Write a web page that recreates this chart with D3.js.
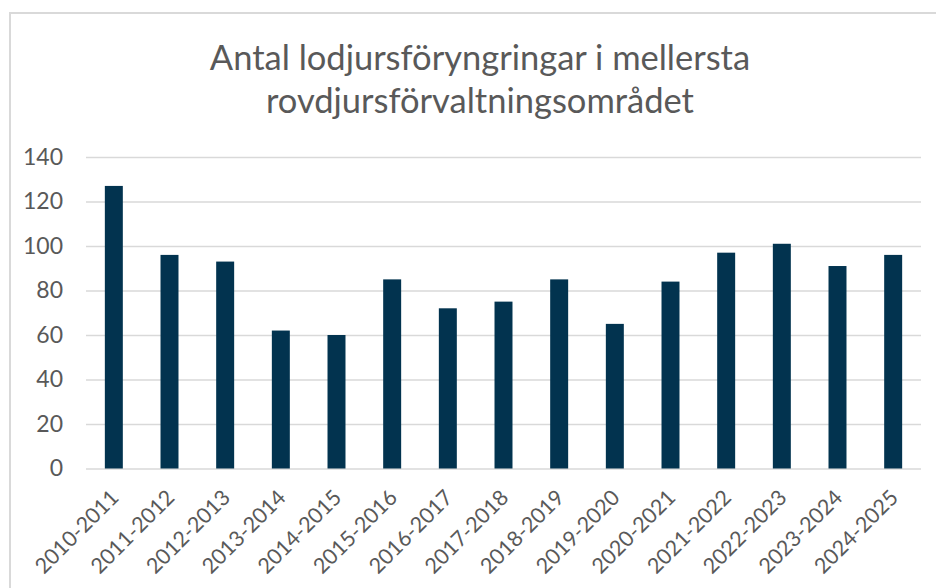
<!DOCTYPE html>
<html>
<head>
<meta charset="utf-8">
<script src="https://cdn.jsdelivr.net/npm/d3@7"></script>
<style>
  body { margin: 0; background: #fff; }
  text { font-family: Lato, "Open Sans", sans-serif; fill: #595959; }
</style>
</head>
<body>
<div id="chart"></div>
<script>
// data
const seasons = ["2010-2011", "2011-2012", "2012-2013", "2013-2014", "2014-2015",
    "2015-2016", "2016-2017", "2017-2018", "2018-2019", "2019-2020",
    "2020-2021", "2021-2022", "2022-2023", "2023-2024", "2024-2025"]
const counts = [127, 96, 93, 62, 60, 85, 72, 75, 85, 65, 84, 97, 101, 91, 96]
const yTicks = [0, 20, 40, 60, 80, 100, 120, 140]
const titleLines = ["Antal lodjursföryngringar i mellersta", "rovdjursförvaltningsområdet"]

const data = seasons.map((s, i) => ({ season: s, value: counts[i] }))

const W = 936, H = 588
const margin = {top: 157, right: 15, bottom: 119.5, left: 86}

const svg = d3.select("#chart").append("svg")
        .attr("width", W)
        .attr("height", H)

// chart frame (cropped on the right and bottom)
svg.append("rect")
        .attr("x", 10)
        .attr("y", 13)
        .attr("width", 1000)
        .attr("height", 700)
        .attr("fill", "none")
        .attr("stroke", "#d9d9d9")
        .attr("stroke-width", 2)

// title
svg.append("text")
        .attr("text-anchor", "middle")
        .style("font-size", "34.5px")
    .selectAll("tspan")
    .data(titleLines)
    .join("tspan")
        .attr("x", 480)
        .attr("y", (d, i) => 70 + i * 43)
        .text(d => d)

const xScale = d3.scaleBand()
    .domain(seasons)
    .range([margin.left, W - margin.right])
    .paddingInner(0.677)
    .paddingOuter(0.677 / 2)

const yScale = d3.scaleLinear()
    .domain([0, 140])
    .range([H - margin.bottom, margin.top])

// gridlines
const yAx = d3.axisLeft(yScale)
    .tickValues(yTicks)
    .tickSize(-(W - margin.right - margin.left))
    .tickPadding(23)

const yGroup = svg.append("g")
        .attr("class", "y-axis")
        .attr("transform", `translate(${margin.left},0)`)
        .call(yAx)

yGroup.select(".domain").remove()
yGroup.selectAll("line")
        .attr("stroke", "#d9d9d9")
        .attr("stroke-width", 1.5)
yGroup.selectAll("text")
        .attr("fill", "#595959")
        .style("font-size", "23px")
        .style("font-family", "Lato, sans-serif")

// bars
svg.selectAll(".bar")
    .data(data)
    .join("rect")
        .attr("class", "bar")
        .attr("x", d => xScale(d.season))
        .attr("y", d => yScale(d.value))
        .attr("width", xScale.bandwidth())
        .attr("height", d => yScale(0) - yScale(d.value))
        .attr("fill", "#02334f")

// category labels, rotated
svg.append("g")
        .attr("class", "x-axis")
    .selectAll("text")
    .data(seasons)
    .join("text")
        .attr("transform", d => `translate(${xScale(d) + xScale.bandwidth() / 2 + 1},${yScale(0) + 25}) rotate(-45)`)
        .attr("text-anchor", "end")
        .attr("dy", "0.35em")
        .style("font-size", "21.5px")
        .text(d => d)
</script>
</body>
</html>
